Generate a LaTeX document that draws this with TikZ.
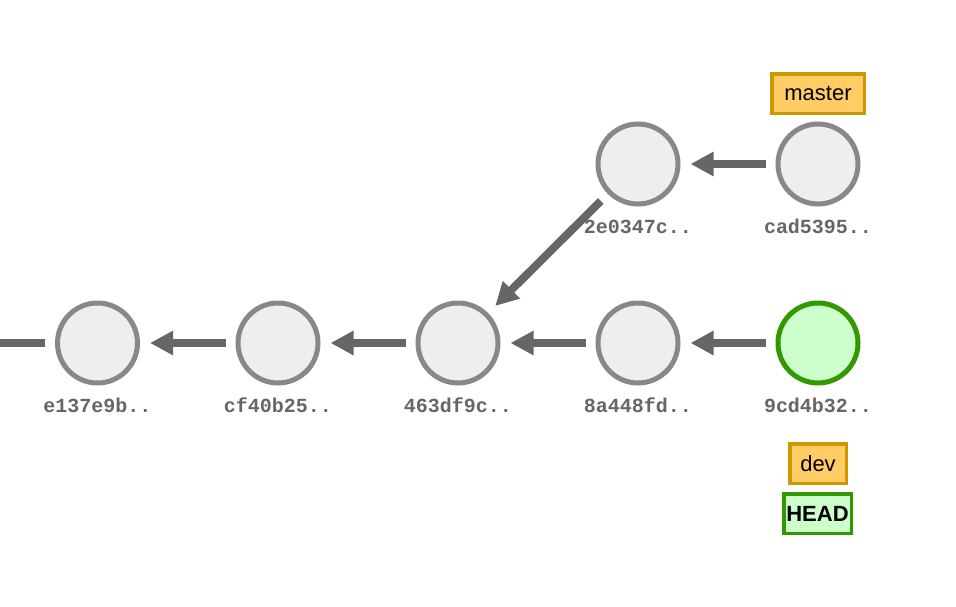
\documentclass[tikz,border=0pt]{standalone}
\usepackage{fontspec}
\setmainfont{Liberation Sans}
\newfontfamily\hashfont{Liberation Mono}
\usetikzlibrary{arrows.meta}
\definecolor{commitfill}{HTML}{EEEEEE}
\definecolor{commitline}{HTML}{888888}
\definecolor{arrowgray}{HTML}{666666}
\definecolor{headfill}{HTML}{CCFFCC}
\definecolor{headline}{HTML}{339900}
\definecolor{branchfill}{HTML}{FFCC66}
\definecolor{branchline}{HTML}{CC9900}

\begin{document}
\begin{tikzpicture}[x=1pt, y=-1pt,
    commit/.style={circle, draw=commitline, fill=commitfill, line width=5pt, minimum size=80pt, inner sep=0pt},
    headcommit/.style={commit, draw=headline, fill=headfill},
    hashtext/.style={anchor=base, text=arrowgray, font=\hashfont\bfseries\fontsize{20}{24}\selectfont},
    branch/.style={rectangle, draw=branchline, fill=branchfill, line width=3.5pt, minimum height=39.5pt, inner sep=0pt, font=\fontsize{22}{26}\selectfont},
    headref/.style={branch, draw=headline, fill=headfill, font=\bfseries\fontsize{22}{26}\selectfont},
    parent/.style={draw=arrowgray, line width=8pt, shorten >=10pt, shorten <=10pt, -{Triangle[length=23pt, width=23pt]}}
  ]
    \useasboundingbox (0,0) rectangle (956,606);
    % commits
    \node[commit]     (e137) at (97.5,343) {};
    \node[commit]     (cf40) at (278,343)  {};
    \node[commit]     (463d) at (458,343)  {};
    \node[commit]     (8a44) at (638,343)  {};
    \node[headcommit] (9cd4) at (818,343)  {};
    \node[commit]     (2e03) at (638,164)  {};
    \node[commit]     (cad5) at (818,164)  {};
    \coordinate (older) at (0,343);
    % hashes
    \node[hashtext] (e137h) at (97.5,412) {e137e9b..};
    \node[hashtext] (cf40h) at (278,412)  {cf40b25..};
    \node[hashtext] (463dh) at (458,412)  {463df9c..};
    \node[hashtext] (8a44h) at (638,412)  {8a448fd..};
    \node[hashtext] (9cd4h) at (818,412)  {9cd4b32..};
    \node[hashtext] (2e03h) at (638,233)  {2e0347c..};
    \node[hashtext] (cad5h) at (818,233)  {cad5395..};
    % refs
    \node[branch, minimum width=92.5pt]  (master) at (818,93.5)  {master};
    \node[branch, minimum width=56.5pt]  (dev)    at (818,463.5) {dev};
    \node[headref, minimum width=67.5pt] (head)   at (817.5,513.5) {HEAD};
    % parents
    \draw[parent, -, shorten >=0pt] (e137) -- (older);
    \draw[parent] (cf40) -- (e137);
    \draw[parent] (463d) -- (cf40);
    \draw[parent] (8a44) -- (463d);
    \draw[parent] (9cd4) -- (8a44);
    \draw[parent] (cad5) -- (2e03);
    \draw[parent] (2e03) -- (463d);
\end{tikzpicture}
\end{document}
